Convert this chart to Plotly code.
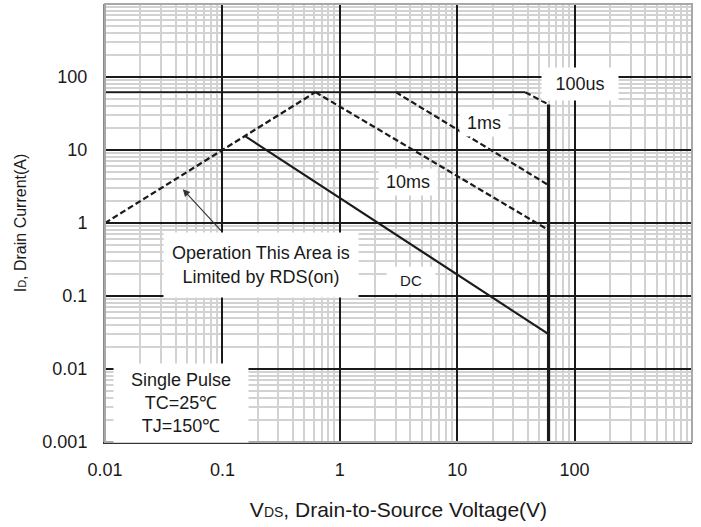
import math
import plotly.graph_objects as go

# ---- data ----
rds_v = [0.01, 0.62]
rds_i = [1.0, 62.0]
ipk_v = [0.01, 38.0]
ipk_i = [62.0, 62.0]
us100_v = [38.0, 60.0]
us100_i = [62.0, 42.0]
ms1_v = [3.0, 60.0]
ms1_i = [62.0, 3.3]
ms10_v = [0.62, 60.0]
ms10_i = [62.0, 0.8]
dc_v = [0.155, 60.0]
dc_i = [15.6, 0.03]
bv_v = [60.0, 60.0]
bv_i = [42.0, 0.001]

x_ticks = [0.01, 0.1, 1, 10, 100]
x_labels = ["0.01", "0.1", "1", "10", "100"]
y_ticks = [0.001, 0.01, 0.1, 1, 10, 100]
y_labels = ["0.001", "0.01", "0.1", "1", "10", "100"]

FONT = "Liberation Sans, Arial, sans-serif"
INK = "#1a1a1a"

x_minor = [k * 10.0 ** e for e in range(-2, 3) for k in range(2, 10)]
y_minor = [k * 10.0 ** e for e in range(-3, 3) for k in range(2, 10)]

fig = go.Figure()

def add(v, i, width, dash=None, color=INK):
    fig.add_trace(go.Scatter(x=v, y=i, mode="lines",
                             line=dict(color=color, width=width, dash=dash),
                             hoverinfo="skip", showlegend=False))

DASH = "6px,3px"
add(ipk_v, ipk_i, 1.8)
add(rds_v, rds_i, 2.2, DASH)
add(us100_v, us100_i, 2.2, DASH)
add(ms1_v, ms1_i, 2.2, DASH)
add(ms10_v, ms10_i, 2.2, DASH)
add(dc_v, dc_i, 2.2)
add(bv_v, bv_i, 3.2)

def box(text, x, y, w, h, size=18):
    fig.add_annotation(x=x, y=y, xref="paper", yref="paper", text=text,
                       showarrow=False, bgcolor="white", width=w, height=h,
                       font=dict(family=FONT, size=size, color=INK),
                       xanchor="center", yanchor="middle", align="center")

# plot area pixel geometry helpers (l=105, r=692, t=4, b=442)
def px(xp):
    return (xp - 105) / (692 - 105)

def py(yp):
    return (442 - yp) / (442 - 4)

box("100us", px(580), py(84), 74, 30)
box("1ms", px(484), py(123), 46, 24)
box("10ms", px(408), py(182), 56, 24)
box("DC", px(411), py(280), 46, 24, size=15)
box("Operation This Area is<br>Limited by RDS(on)", px(261), py(265), 192, 62)
box("Single Pulse<br>TC=25℃<br>TJ=150℃", px(181), py(403), 132, 76)

fig.add_annotation(x=math.log10(0.046), y=math.log10(2.9), xref="x", yref="y",
                   ax=math.log10(0.1), ay=math.log10(0.75), axref="x", ayref="y",
                   text="", showarrow=True, arrowhead=2, arrowsize=1.3,
                   arrowwidth=1.1, arrowcolor="#333")

fig.add_shape(type="rect", xref="paper", yref="paper", x0=0, x1=1, y0=0, y1=1,
              line=dict(color="#a8a8a8", width=2), layer="above")

axis_common = dict(type="log", showgrid=True, gridcolor=INK, gridwidth=1.6,
                   tickfont=dict(family=FONT, size=18, color=INK),
                   ticks="", zeroline=False, automargin=False)

fig.update_xaxes(range=[-2, 3], tickvals=x_ticks, ticktext=x_labels,
                 showline=True, linecolor="#333", linewidth=2,
                 ticklabelstandoff=10,
                 minor=dict(tickvals=x_minor, showgrid=True, gridcolor="#d2d2d2", gridwidth=1.5),
                 title=dict(text="V<span style='font-size:14px'>DS</span>, Drain-to-Source Voltage(V)",
                            font=dict(family=FONT, size=21, color=INK), standoff=24),
                 **axis_common)
fig.update_yaxes(range=[-3, 3], tickvals=y_ticks, ticktext=y_labels,
                 showline=True, linecolor="#888", linewidth=2,
                 ticklabelstandoff=12,
                 minor=dict(tickvals=y_minor, showgrid=True, gridcolor="#d2d2d2", gridwidth=1.5),
                 title=dict(text="I<span style='font-size:11px'>D</span>, Drain Current(A)",
                            font=dict(family=FONT, size=16, color=INK), standoff=12),
                 **axis_common)

fig.update_layout(width=701, height=527, margin=dict(l=105, r=9, t=4, b=85),
                  plot_bgcolor="white", paper_bgcolor="white",
                  font=dict(family=FONT, color=INK))

fig.write_html("out.html")
